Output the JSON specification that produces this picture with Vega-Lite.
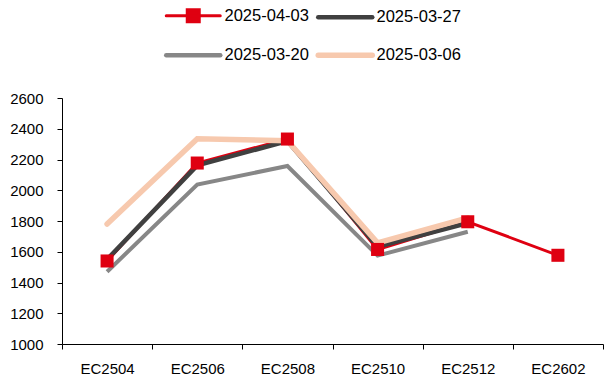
{
  "$schema": "https://vega.github.io/schema/vega-lite/v6.json",
  "width": 541,
  "height": 246,
  "autosize": {"type": "none"},
  "padding": {"left": 62, "top": 98, "right": 1, "bottom": 37},
  "background": "white",
  "config": {"view": {"stroke": null}, "font": "Liberation Sans"},
  "data": {
    "values": [
      {"contract": "EC2504", "date": "2025-04-03", "price": 1540},
      {"contract": "EC2506", "date": "2025-04-03", "price": 2177},
      {"contract": "EC2508", "date": "2025-04-03", "price": 2333},
      {"contract": "EC2510", "date": "2025-04-03", "price": 1615},
      {"contract": "EC2512", "date": "2025-04-03", "price": 1795},
      {"contract": "EC2602", "date": "2025-04-03", "price": 1577},
      {"contract": "EC2504", "date": "2025-03-27", "price": 1550},
      {"contract": "EC2506", "date": "2025-03-27", "price": 2162},
      {"contract": "EC2508", "date": "2025-03-27", "price": 2320},
      {"contract": "EC2510", "date": "2025-03-27", "price": 1632},
      {"contract": "EC2512", "date": "2025-03-27", "price": 1787},
      {"contract": "EC2504", "date": "2025-03-20", "price": 1470},
      {"contract": "EC2506", "date": "2025-03-20", "price": 2037},
      {"contract": "EC2508", "date": "2025-03-20", "price": 2158},
      {"contract": "EC2510", "date": "2025-03-20", "price": 1575},
      {"contract": "EC2512", "date": "2025-03-20", "price": 1730},
      {"contract": "EC2504", "date": "2025-03-06", "price": 1780},
      {"contract": "EC2506", "date": "2025-03-06", "price": 2335},
      {"contract": "EC2508", "date": "2025-03-06", "price": 2322},
      {"contract": "EC2510", "date": "2025-03-06", "price": 1658},
      {"contract": "EC2512", "date": "2025-03-06", "price": 1820}
    ]
  },
  "encoding": {
    "x": {
      "field": "contract",
      "type": "nominal",
      "sort": ["EC2504", "EC2506", "EC2508", "EC2510", "EC2512", "EC2602"],
      "scale": {"paddingInner": 0, "paddingOuter": 0},
      "axis": {
        "title": null,
        "labelAngle": 0,
        "grid": false,
        "domainColor": "#000000",
        "domainWidth": 1,
        "tickColor": "#000000",
        "tickSize": 5,
        "tickBand": "extent",
        "labelFontSize": 15,
        "labelColor": "#000000",
        "labelPadding": 12
      }
    },
    "y": {
      "field": "price",
      "type": "quantitative",
      "scale": {"domain": [1000, 2600], "nice": false, "zero": false},
      "axis": {
        "title": null,
        "grid": false,
        "format": "d",
        "values": [1000, 1200, 1400, 1600, 1800, 2000, 2200, 2400, 2600],
        "domainColor": "#000000",
        "domainWidth": 1,
        "tickColor": "#000000",
        "tickSize": 5,
        "labelFontSize": 15,
        "labelColor": "#000000",
        "labelPadding": 14
      }
    },
    "color": {
      "field": "date",
      "type": "nominal",
      "scale": {
        "domain": ["2025-04-03", "2025-03-27", "2025-03-20", "2025-03-06"],
        "range": ["#df0011", "#404040", "#878787", "#f7c9ae"]
      },
      "legend": {
        "title": null,
        "orient": "none",
        "legendX": 123,
        "legendY": -91,
        "direction": "horizontal",
        "columns": 2,
        "symbolSize": 400,
        "labelFontSize": 16.5,
        "labelColor": "#000000",
        "labelOffset": 23,
        "columnPadding": -2,
        "rowPadding": 16,
        "labelLimit": 200,
        "encode": {
          "symbols": {
            "update": {
              "shape": {"signal": "datum.value === '2025-04-03' ? 'M-2.7,0H2.7M-0.6,-0.6H0.6V0.6H-0.6Z' : 'M-2.7,0H2.7'"},
              "fill": {"signal": "datum.value === '2025-04-03' ? '#df0011' : 'transparent'"},
              "strokeWidth": {"signal": "datum.value === '2025-04-03' ? 3 : datum.value === '2025-03-06' ? 5.5 : 4.5"},
              "strokeCap": {"value": "round"}
            }
          }
        }
      }
    }
  },
  "layer": [
    {
      "transform": [{"filter": "datum.date === '2025-04-03'"}],
      "mark": {"type": "line", "strokeWidth": 3}
    },
    {
      "transform": [{"filter": "datum.date === '2025-03-27'"}],
      "mark": {"type": "line", "strokeWidth": 4.5}
    },
    {
      "transform": [{"filter": "datum.date === '2025-03-20'"}],
      "mark": {"type": "line", "strokeWidth": 4}
    },
    {
      "transform": [{"filter": "datum.date === '2025-03-06'"}],
      "mark": {"type": "line", "strokeWidth": 5.5, "strokeCap": "round"}
    },
    {
      "transform": [{"filter": "datum.date === '2025-04-03'"}],
      "mark": {"type": "square", "size": 170, "filled": true, "opacity": 1},
      "encoding": {"color": {"value": "#df0011"}}
    }
  ]
}
